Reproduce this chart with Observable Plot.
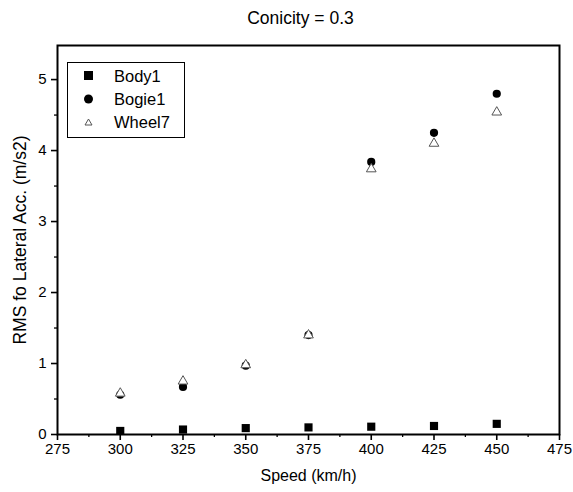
<!DOCTYPE html>
<html>
<head>
<meta charset="utf-8">
<script src="https://cdn.jsdelivr.net/npm/d3@7"></script>
<script src="https://cdn.jsdelivr.net/npm/@observablehq/plot@0.6"></script>
<style>
  body { margin: 0; background: #fff; font-family: "Liberation Sans", Arial, sans-serif; }
  #wrap { position: relative; width: 573px; height: 492px; }
  #title { height: 30px; line-height: 36px; text-align: center; font-size: 17.5px; padding-left: 28px; box-sizing: border-box; }
  #legend { position: absolute; left: 67px; top: 62px; width: 116px; height: 74px; border: 1px solid #000; background: #fff; font-size: 16.5px; }
  #legend div { position: absolute; left: 0; height: 22px; line-height: 22px; }
  #legend svg { position: absolute; left: 15px; top: 4px; }
  #legend span { position: absolute; left: 46px; white-space: nowrap; }
</style>
</head>
<body>
<div id="wrap">
  <div id="title">Conicity = 0.3</div>
  <div id="chart"></div>
  <div id="legend"></div>
</div>
<script>
const speeds = [300, 325, 350, 375, 400, 425, 450];
const body1  = [0.05, 0.07, 0.09, 0.10, 0.11, 0.12, 0.15];
const bogie1 = [0.56, 0.67, 0.97, 1.40, 3.84, 4.25, 4.80];
const wheel7 = [0.58, 0.75, 0.98, 1.40, 3.74, 4.10, 4.54];
const xTicks = [275, 300, 325, 350, 375, 400, 425, 450, 475];
const xMinor = [287.5, 312.5, 337.5, 362.5, 387.5, 412.5, 437.5, 462.5];
const yTicks = [0, 1, 2, 3, 4, 5];
const yMinor = [0.5, 1.5, 2.5, 3.5, 4.5];
const seriesNames = ["Body1", "Bogie1", "Wheel7"];

const table = (vals) => speeds.map((s, i) => ({speed: s, v: vals[i]}));

const chart = Plot.plot({
  width: 573,
  height: 462,
  marginLeft: 57,
  marginRight: 14,
  marginTop: 15,
  marginBottom: 58,
  style: {fontFamily: "Liberation Sans, Arial, sans-serif", fontSize: "15px", color: "#000", background: "#fff"},
  x: {domain: [275, 475]},
  y: {domain: [0, 5.48]},
  marks: [
    Plot.axisX({ticks: xTicks, tickSize: 6, tickPadding: 3, tickFormat: d => String(d), label: null, strokeWidth: 1.6, fontSize: 15}),
    Plot.axisX({ticks: xMinor, tickSize: 3, tickFormat: () => "", label: null, strokeWidth: 1.3}),
    Plot.axisY({ticks: yTicks, tickSize: 6, tickPadding: 5, tickFormat: d => String(d), label: null, strokeWidth: 1.6, fontSize: 15}),
    Plot.axisY({ticks: yMinor, tickSize: 3, tickFormat: () => "", label: null, strokeWidth: 1.3}),
    Plot.frame({stroke: "#000", strokeWidth: 2}),
    Plot.dot(table(body1), {x: "speed", y: "v", symbol: "square", r: 4.6, fill: "#000", stroke: "none"}),
    Plot.dot(table(bogie1), {x: "speed", y: "v", symbol: "circle", r: 4.1, fill: "#000", stroke: "none"}),
    Plot.dot(table(wheel7), {x: "speed", y: "v", symbol: "triangle", r: 3.6, fill: "#fff", stroke: "#555", strokeWidth: 1}),
    Plot.text(["Speed (km/h)"], {frameAnchor: "bottom", dy: 46, fontSize: 16, fill: "#000"}),
    Plot.text(["RMS fo Lateral Acc. (m/s2)"], {frameAnchor: "left", textAnchor: "middle", dx: -37, rotate: -90, fontSize: 17.5, fill: "#000"})
  ]
});
document.getElementById("chart").appendChild(chart);

// Legend
const legend = document.getElementById("legend");
const symbolSvg = [
  '<rect x="1" y="2" width="9" height="9" fill="#000"/>',
  '<circle cx="5.5" cy="7" r="4.5" fill="#000"/>',
  '<path d="M5.5,4 L9,10 L2,10 Z" fill="#fff" stroke="#555" stroke-width="1"/>'
];
seriesNames.forEach((name, i) => {
  const row = document.createElement("div");
  row.style.top = (2 + i * 23) + "px";
  row.style.width = "116px";
  row.innerHTML = '<svg width="12" height="14">' + symbolSvg[i] + '</svg><span>' + name + '</span>';
  legend.appendChild(row);
});
</script>
</body>
</html>
